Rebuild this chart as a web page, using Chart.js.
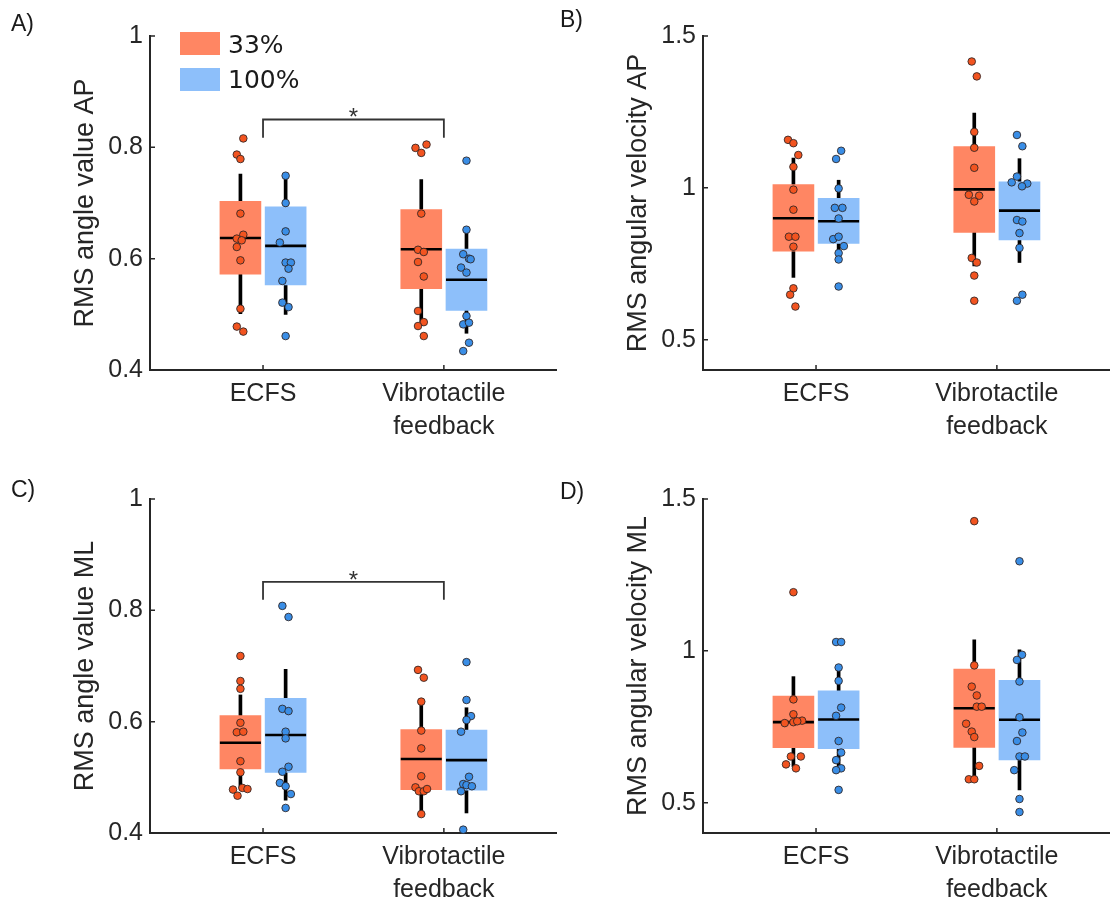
<!DOCTYPE html>
<html>
<head>
<meta charset="utf-8">
<title>RMS sway box plots</title>
<script src="https://cdn.jsdelivr.net/npm/chart.js@4.4.0/dist/chart.umd.min.js"></script>
<style>
    html, body { margin: 0; padding: 0; background: #ffffff; }
    body { width: 1115px; height: 905px; position: relative; overflow: hidden; font-family: "Liberation Sans", Arial, sans-serif; }
    canvas { position: absolute; }
    .panel-label { position: absolute; font-size: 23px; line-height: 1; color: #1a1a1a; }
    .legend-box { position: absolute; width: 40px; height: 23px; }
    .legend-text { position: absolute; font-family: "DejaVu Sans", sans-serif; font-size: 25px; line-height: 1; color: #1a1a1a; }
</style>
</head>
<body>
<canvas id="chartA" width="580" height="450" style="left:0;top:0"></canvas>
<canvas id="chartB" width="580" height="450" style="left:553px;top:0"></canvas>
<canvas id="chartC" width="580" height="450" style="left:0;top:463px"></canvas>
<canvas id="chartD" width="580" height="450" style="left:553px;top:463px"></canvas>

<div class="panel-label" style="left:11px;top:12px">A)</div>
<div class="panel-label" style="left:560px;top:8px">B)</div>
<div class="panel-label" style="left:11px;top:478px">C)</div>
<div class="panel-label" style="left:560px;top:480px">D)</div>

<div class="legend-box" style="left:180px;top:32px;background:rgb(255,134,99)"></div>
<div class="legend-box" style="left:180px;top:68px;background:rgb(141,191,250)"></div>
<div class="legend-text" id="legend33" style="left:228px;top:32px"></div>
<div class="legend-text" id="legend100" style="left:228px;top:67px"></div>

<script>
// Categories and groups
const categories = ['ECFS', ['Vibrotactile', 'feedback']];
const categoryPos = [1, 2];
const seriesNames = ['33%', '100%'];

// Y tick labels
const angleTicks = [0.4, 0.6, 0.8, 1];
const velocityTicks = [0.5, 1, 1.5];

// Box stats per category: [lower whisker, q1, median, q3, upper whisker]
// A) RMS angle value AP
const apAngleBox33 = [[0.501, 0.572, 0.637, 0.703, 0.752], [0.487, 0.546, 0.617, 0.688, 0.742]];
const apAngleBox100 = [[0.500, 0.553, 0.623, 0.693, 0.749], [0.466, 0.507, 0.562, 0.617, 0.657]];
const apAnglePts33 = [
    [0.816, 0.787, 0.779, 0.681, 0.643, 0.636, 0.633, 0.621, 0.597, 0.510, 0.478, 0.469],
    [0.805, 0.799, 0.790, 0.681, 0.616, 0.612, 0.594, 0.568, 0.506, 0.486, 0.479, 0.461]
];
const apAngleJit33 = [
    [0.016, -0.02, 0, 0, 0.016, -0.02, 0.007, -0.02, 0, 0, -0.02, 0.016],
    [0.029, -0.032, 0, 0, -0.018, 0.014, -0.018, 0.014, -0.018, 0.014, -0.018, 0.014]
];
const apAnglePts100 = [
    [0.749, 0.700, 0.649, 0.629, 0.593, 0.593, 0.582, 0.560, 0.521, 0.513, 0.461],
    [0.776, 0.652, 0.608, 0.600, 0.599, 0.584, 0.575, 0.497, 0.482, 0.485, 0.449, 0.434]
];
const apAngleJit100 = [
    [0, 0, 0, -0.032, 0, 0.029, 0.016, -0.018, -0.018, 0.016, 0],
    [0, 0, -0.018, 0.014, 0.023, -0.030, 0, 0, -0.018, 0.014, 0.014, -0.018]
];

// B) RMS angular velocity AP
const apVelBox33 = [[0.705, 0.791, 0.900, 1.011, 1.098], [0.743, 0.853, 0.995, 1.136, 1.246]];
const apVelBox100 = [[0.760, 0.817, 0.890, 0.965, 1.025], [0.754, 0.828, 0.925, 1.020, 1.096]];
const apVelPts33 = [
    [1.158, 1.147, 1.108, 1.069, 0.994, 0.928, 0.839, 0.839, 0.806, 0.669, 0.648, 0.609],
    [1.416, 1.367, 1.184, 1.132, 1.066, 0.977, 0.974, 0.955, 0.769, 0.754, 0.711, 0.628]
];
const apVelJit33 = [
    [-0.030, 0, 0.027, 0, 0, 0, -0.025, 0.011, 0, 0, -0.018, 0.011],
    [-0.014, 0.014, 0, 0, 0, -0.030, 0.027, 0, -0.014, 0.014, 0, 0]
];
const apVelPts100 = [
    [1.122, 1.095, 0.998, 0.934, 0.934, 0.899, 0.831, 0.839, 0.808, 0.785, 0.764, 0.675],
    [1.174, 1.137, 1.037, 1.018, 1.014, 1.005, 0.894, 0.889, 0.851, 0.802, 0.648, 0.628]
];
const apVelJit100 = [
    [0.014, -0.014, 0, -0.021, 0.021, 0, -0.030, 0, 0.029, 0, 0, 0],
    [-0.014, 0.016, -0.014, -0.043, 0.043, 0.014, -0.014, 0.016, 0, 0, 0.016, -0.014]
];

// C) RMS angle value ML
const mlAngleBox33 = [[0.481, 0.515, 0.562, 0.611, 0.648], [0.434, 0.478, 0.533, 0.586, 0.636]];
const mlAngleBox100 = [[0.459, 0.509, 0.576, 0.642, 0.694], [0.436, 0.477, 0.531, 0.585, 0.625]];
const mlAnglePts33 = [
    [0.718, 0.673, 0.659, 0.598, 0.581, 0.582, 0.529, 0.509, 0.481, 0.479, 0.478, 0.467],
    [0.693, 0.679, 0.636, 0.584, 0.552, 0.502, 0.482, 0.475, 0.475, 0.479, 0.434]
];
const mlAngleJit33 = [
    [0, 0, 0, 0, -0.02, 0.016, 0, 0, 0.011, 0.039, -0.041, -0.016],
    [-0.018, 0.014, 0, 0, 0, 0, -0.032, -0.013, 0.014, 0.032, 0]
];
const mlAnglePts100 = [
    [0.808, 0.788, 0.623, 0.619, 0.582, 0.570, 0.519, 0.510, 0.490, 0.484, 0.470, 0.445],
    [0.707, 0.639, 0.610, 0.603, 0.582, 0.501, 0.488, 0.486, 0.484, 0.475, 0.406]
];
const mlAngleJit100 = [
    [-0.018, 0.016, -0.018, 0.016, 0, 0, 0.016, -0.018, -0.032, 0, 0.029, 0],
    [0, 0, 0.025, 0, -0.030, 0.014, -0.018, 0, 0.030, -0.030, -0.018]
];

// D) RMS angular velocity ML
const mlVelBox33 = [[0.619, 0.681, 0.765, 0.851, 0.915], [0.580, 0.682, 0.811, 0.940, 1.036]];
const mlVelBox100 = [[0.608, 0.678, 0.774, 0.868, 0.945], [0.542, 0.641, 0.773, 0.903, 1.003]];
const mlVelPts33 = [
    [1.193, 0.840, 0.791, 0.762, 0.765, 0.770, 0.768, 0.652, 0.652, 0.626, 0.613],
    [1.427, 0.952, 0.882, 0.853, 0.816, 0.816, 0.760, 0.734, 0.716, 0.621, 0.577, 0.577]
];
const mlVelJit33 = [
    [0, 0, 0, -0.048, 0, 0.048, 0.021, -0.014, 0.041, -0.041, 0.014],
    [0, 0, -0.014, 0.014, 0.014, 0.041, -0.045, -0.014, 0, 0.027, -0.030, 0]
];
const mlVelPts100 = [
    [1.029, 1.029, 0.945, 0.901, 0.813, 0.786, 0.703, 0.665, 0.640, 0.613, 0.607, 0.542],
    [1.295, 0.987, 0.970, 0.899, 0.781, 0.731, 0.703, 0.652, 0.652, 0.607, 0.512, 0.469]
];
const mlVelJit100 = [
    [-0.014, 0.014, 0, 0, 0.014, -0.014, 0, 0.014, -0.014, 0.014, -0.014, 0],
    [0, 0.014, -0.014, 0, 0, 0.016, -0.014, 0, 0.030, -0.029, 0, 0]
];

// Styling
const fontFamily = '"Liberation Sans", Arial, sans-serif';
const axisColor = '#262626';
const boxColors = ['rgb(255,134,99)', 'rgb(141,191,250)'];
const pointColors = ['rgb(242,84,32)', 'rgb(58,142,230)'];
const groupShift = [-0.125, 0.125];

Chart.defaults.font.family = fontFamily;

document.getElementById('legend33').textContent = seriesNames[0];
document.getElementById('legend100').textContent = seriesNames[1];

// MATLAB style ticks pointing into the plot
const inwardTicks = {
    id: 'inwardTicks',
    afterDraw(chart) {
        const { ctx, chartArea, scales: { x, y } } = chart;
        ctx.save();
        ctx.strokeStyle = axisColor;
        ctx.lineWidth = 1.5;
        ctx.beginPath();
        y.ticks.forEach(t => {
            const py = y.getPixelForValue(t.value);
            ctx.moveTo(chartArea.left, py);
            ctx.lineTo(chartArea.left + 5, py);
        });
        x.ticks.forEach(t => {
            const px = x.getPixelForValue(t.value);
            ctx.moveTo(px, chartArea.bottom);
            ctx.lineTo(px, chartArea.bottom - 5);
        });
        ctx.stroke();
        ctx.restore();
    }
};

// Star above the significance bracket
const sigStar = {
    id: 'sigStar',
    afterDatasetsDraw(chart, args, opts) {
        if (!opts || opts.y === undefined) return;
        const { ctx, scales: { x, y } } = chart;
        ctx.save();
        ctx.fillStyle = '#333333';
        ctx.font = '24px ' + fontFamily;
        ctx.textAlign = 'center';
        ctx.textBaseline = 'middle';
        ctx.fillText('*', x.getPixelForValue((opts.from + opts.to) / 2), y.getPixelForValue(opts.y) - 1);
        ctx.restore();
    }
};

function buildDatasets(boxes, pts, jits) {
    const datasets = [];
    boxes.forEach((box, s) => {
        const shift = groupShift[s];
        const points = [];
        pts[s].forEach((vals, c) => {
            vals.forEach((v, i) => points.push({ x: categoryPos[c] + shift + jits[s][c][i], y: v }));
        });
        datasets.push({
            type: 'scatter', label: seriesNames[s], data: points, order: 0,
            pointRadius: 3.8, pointBackgroundColor: pointColors[s],
            pointBorderColor: 'rgba(45,35,35,0.85)', pointBorderWidth: 1, clip: false
        });
        datasets.push({
            type: 'scatter', label: seriesNames[s] + ' median', order: 1,
            data: box.map((b, c) => ({ x: categoryPos[c] + shift, y: b[2] })),
            pointStyle: 'line', pointRadius: 20.5, pointBorderColor: '#000000', pointBorderWidth: 2.6, clip: false
        });
        datasets.push({
            type: 'bar', label: seriesNames[s] + ' box', order: 2,
            data: box.map((b, c) => ({ x: categoryPos[c] + shift, y: [b[1], b[3]] })),
            backgroundColor: boxColors[s], borderWidth: 0, barThickness: 41, grouped: false, clip: false
        });
        datasets.push({
            type: 'bar', label: seriesNames[s] + ' whisker', order: 3,
            data: box.map((b, c) => ({ x: categoryPos[c] + shift, y: [b[0], b[4]] })),
            backgroundColor: '#000000', borderWidth: 0, barThickness: 3, grouped: false, clip: false
        });
    });
    return datasets;
}

function makeBoxChart(canvasId, cfg) {
    const datasets = buildDatasets(cfg.boxes, cfg.pts, cfg.jits);
    const plugins = [inwardTicks];
    if (cfg.sig) {
        datasets.push({
            type: 'line', label: 'sig', order: 1,
            data: [
                { x: cfg.sig.from, y: cfg.sig.leg },
                { x: cfg.sig.from, y: cfg.sig.y },
                { x: cfg.sig.to, y: cfg.sig.y },
                { x: cfg.sig.to, y: cfg.sig.leg }
            ],
            borderColor: '#333333', borderWidth: 1.8, pointRadius: 0, fill: false, tension: 0, clip: false
        });
        plugins.push(sigStar);
    }
    const ctx = document.getElementById(canvasId).getContext('2d');
    return new Chart(ctx, {
        type: 'bar',
        data: { datasets },
        plugins,
        options: {
            responsive: false,
            animation: false,
            devicePixelRatio: 1,
            events: [],
            layout: { padding: { top: 36, right: 9, left: 0, bottom: 0 } },
            plugins: {
                legend: { display: false },
                tooltip: { enabled: false },
                sigStar: cfg.sig || {}
            },
            scales: {
                x: {
                    type: 'linear', min: 0.375, max: 2.625, offset: false,
                    afterBuildTicks: s => { s.ticks = categoryPos.map(v => ({ value: v })); },
                    afterFit: s => { s.height = 80; },
                    ticks: {
                        callback: (v, i) => categories[i],
                        font: { size: 25, lineHeight: 1.32 }, color: axisColor,
                        padding: 8, maxRotation: 0, autoSkip: false
                    },
                    grid: { drawOnChartArea: false, drawTicks: false },
                    border: { display: true, color: axisColor, width: 2 }
                },
                y: {
                    min: cfg.yMin, max: cfg.yMax,
                    afterBuildTicks: s => { s.ticks = cfg.yTicks.map(v => ({ value: v })); },
                    afterFit: s => { s.width = 150; },
                    ticks: { callback: v => String(v), font: { size: 25 }, color: axisColor, padding: 7 },
                    grid: { drawOnChartArea: false, drawTicks: false },
                    border: { display: true, color: axisColor, width: 2 },
                    title: {
                        display: true, text: cfg.yTitle, color: axisColor,
                        font: { size: 27 }, padding: { top: 69, bottom: 0 }
                    }
                }
            }
        }
    });
}

makeBoxChart('chartA', {
    yTitle: 'RMS angle value AP', yMin: 0.4, yMax: 1, yTicks: angleTicks,
    boxes: [apAngleBox33, apAngleBox100], pts: [apAnglePts33, apAnglePts100], jits: [apAngleJit33, apAngleJit100],
    sig: { from: 1, to: 2, y: 0.85, leg: 0.817 }
});
makeBoxChart('chartB', {
    yTitle: 'RMS angular velocity AP', yMin: 0.4, yMax: 1.5, yTicks: velocityTicks,
    boxes: [apVelBox33, apVelBox100], pts: [apVelPts33, apVelPts100], jits: [apVelJit33, apVelJit100]
});
makeBoxChart('chartC', {
    yTitle: 'RMS angle value ML', yMin: 0.4, yMax: 1, yTicks: angleTicks,
    boxes: [mlAngleBox33, mlAngleBox100], pts: [mlAnglePts33, mlAnglePts100], jits: [mlAngleJit33, mlAngleJit100],
    sig: { from: 1, to: 2, y: 0.851, leg: 0.819 }
});
makeBoxChart('chartD', {
    yTitle: 'RMS angular velocity ML', yMin: 0.4, yMax: 1.5, yTicks: velocityTicks,
    boxes: [mlVelBox33, mlVelBox100], pts: [mlVelPts33, mlVelPts100], jits: [mlVelJit33, mlVelJit100]
});
</script>
</body>
</html>
